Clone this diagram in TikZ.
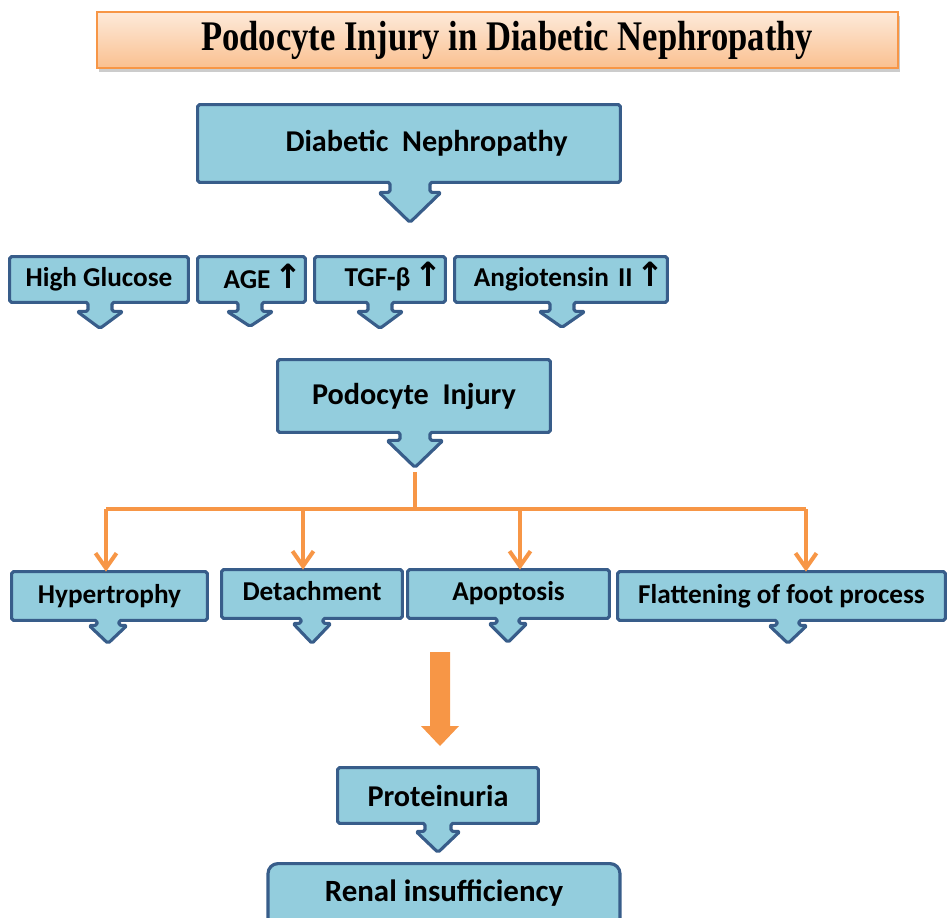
\documentclass[tikz,border=0pt]{standalone}
\usepackage{fontspec}
\setmainfont{Carlito}
\newfontfamily\titlefont[FakeStretch=0.82]{Liberation Serif}
\newfontfamily\arrowfont{DejaVu Sans}
\usepackage{tikz}
\usetikzlibrary{positioning,calc,backgrounds,shadows,arrows.meta}

\definecolor{boxfill}{RGB}{147,205,221}
\definecolor{boxline}{RGB}{56,93,138}
\definecolor{flow}{RGB}{247,150,70}
\definecolor{titletop}{RGB}{253,234,218}
\definecolor{titlebot}{RGB}{250,192,144}

% black up arrow after a label
\newcommand{\incr}{\hspace{2pt}\smash{\arrowfont\bfseries\fontsize{19}{19}\selectfont ↑}}

% box with a down arrow under it: node, arrow x, shaft half, head half, shaft length, head length
\newcommand{\downcallout}[6]{%
  \coordinate (#1-base) at (#2,0 |- #1.south);
  \coordinate (#1-tip) at ($(#1-base)+(0,#5+#6)$);
  \begin{scope}[on background layer]
    \draw[calloutline] (#1.south west) -- (#1.north west) -- (#1.north east) -- (#1.south east)
      -- ($(#1-base)+(#3,0)$) -- ($(#1-base)+(#3,#5)$) -- ($(#1-base)+(#4,#5)$) -- (#1-tip)
      -- ($(#1-base)+(-#4,#5)$) -- ($(#1-base)+(-#3,#5)$) -- ($(#1-base)+(-#3,0)$) -- cycle;
  \end{scope}}

\begin{document}
\begin{tikzpicture}[
    x=0.02cm, y=-0.02cm,
    boxsize/.style 2 args={minimum width=#1*0.02cm, minimum height=#2*0.02cm},
    calloutline/.style={draw=boxline, fill=boxfill, line width=1.8pt, rounded corners=1pt, line join=round},
    box/.style={inner sep=0pt, font=\fontsize{15.5}{18}\selectfont\bfseries},
    bigbox/.style={inner sep=0pt, font=\fontsize{17.2}{20}\selectfont\bfseries},
    endbox/.style={bigbox, draw=boxline, fill=boxfill, line width=1.8pt, rounded corners=0.2cm},
    banner/.style={draw=flow, line width=1pt, top color=titletop, bottom color=titlebot,
        drop shadow={shadow xshift=1pt, shadow yshift=-2pt, fill=black!40},
        font=\titlefont\bfseries\fontsize{24}{27}\selectfont},
    link/.style={draw=flow, line width=2.3pt},
    drop/.style={link, -{Straight Barb[length=3mm, width=4.2mm, line width=2.3pt]}}
]
    \useasboundingbox (0,0) rectangle (947,917);
    \clip (0,0) rectangle (947,917);

    \node[banner, boxsize={801}{56}] (title) at (497.5,40) {\hspace{11pt}Podocyte Injury in Diabetic Nephropathy};

    \node[bigbox, boxsize={422}{77}] (diab) at (409,143.5) {\hspace{20pt}Diabetic\ \ Nephropathy};
    \downcallout{diab}{410}{20}{31}{10}{30}

    % causes
    \node[box, boxsize={178}{45}] (glucose) at (99,279.5) {High Glucose};
    \node[box, boxsize={107}{45}, text width=101*0.02cm, align=right] (age) at (251.5,279.5) {AGE\incr};
    \node[box, boxsize={130}{45}, text width=124*0.02cm, align=right] (tgf) at (380,279.5) {TGF-β\incr};
    \node[box, boxsize={212}{45}, text width=206*0.02cm, align=right] (angio) at (561,279.5) {Angiotensin II\incr};
    \downcallout{glucose}{100}{12}{23}{9}{17}
    \downcallout{age}{250}{12}{23}{9}{15}
    \downcallout{tgf}{380}{12}{23}{9}{17}
    \downcallout{angio}{562}{12}{23}{9}{16}

    \node[bigbox, boxsize={272}{72}] (injury) at (414,396) {Podocyte\ \ Injury};
    \downcallout{injury}{415}{15}{28}{8}{27}

    % changes of the podocyte
    \node[box, boxsize={195}{48}] (hyper) at (109.5,596) {Hypertrophy};
    \node[box, boxsize={180}{48}] (detach) at (312,594) {\raisebox{3pt}{Detachment}};
    \node[box, boxsize={201}{48}] (apop) at (508.5,594) {\raisebox{3pt}{Apoptosis}};
    \node[box, boxsize={327}{48}] (flat) at (781.5,596) {Flattening of foot process};
    \downcallout{hyper}{108}{11}{19}{5}{18}
    \downcallout{detach}{312}{11}{19}{5}{20}
    \downcallout{apop}{508}{11}{19}{5}{19}
    \downcallout{flat}{788}{11}{19}{5}{18}

    \coordinate (split) at (415,509);
    \coordinate (b1) at (106,509);
    \coordinate (b2) at (303,509);
    \coordinate (b3) at (520,509);
    \coordinate (b4) at (806,509);
    \draw[link] ($(injury-tip)+(0,5)$) -- (split);
    \draw[link] (b1) -- (b4);
    \draw[drop] (b1) -- (b1 |- hyper.north);
    \draw[drop] (b2) -- (b2 |- detach.north);
    \draw[drop] (b3) -- (b3 |- apop.north);
    \draw[drop] (b4) -- (b4 |- flat.north);

    % big arrow
    \fill[flow] (430,652) -- (450,652) -- (450,726) -- (459,726) -- (440,746) -- (421,726) -- (430,726) -- cycle;

    \node[bigbox, boxsize={200}{55}] (prot) at (438,795.5) {Proteinuria};
    \downcallout{prot}{438}{13}{22}{8}{21}

    \node[endbox, boxsize={352}{70}, anchor=north, font=\fontsize{17.6}{20}\selectfont\bfseries] (renal) at (444,862) {\raisebox{9pt}{Renal insufficiency}};
\end{tikzpicture}
\end{document}
